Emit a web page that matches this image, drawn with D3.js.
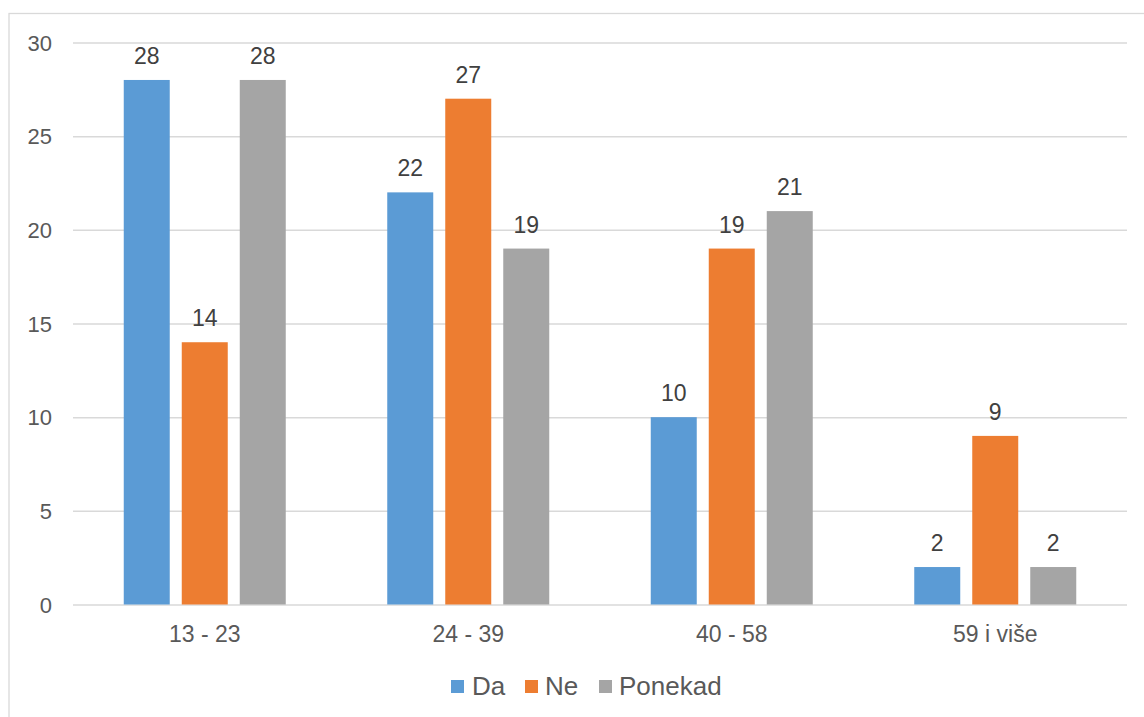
<!DOCTYPE html>
<html>
<head>
<meta charset="utf-8">
<script src="https://cdn.jsdelivr.net/npm/d3@7"></script>
<style>
  html, body { margin: 0; padding: 0; background: #fff; }
  svg { display: block; font-family: "Liberation Sans", Arial, sans-serif; }
</style>
</head>
<body>
<svg id="chart" width="1144" height="717"></svg>
<script>
const categories = ["13 - 23", "24 - 39", "40 - 58", "59 i više"];
const seriesNames = ["Da", "Ne", "Ponekad"];
const da = [28, 22, 10, 2];
const ne = [14, 27, 19, 9];
const ponekad = [28, 19, 21, 2];
const yTicks = [0, 5, 10, 15, 20, 25, 30];
const colors = ["#5B9BD5", "#ED7D31", "#A5A5A5"];

const seriesValues = [da, ne, ponekad];
const svg = d3.select("#chart");

// frame
svg.append("rect")
  .attr("x", 9).attr("y", 13.5)
  .attr("width", 1200).attr("height", 800)
  .attr("fill", "none").attr("stroke", "#d9d9d9").attr("stroke-width", 1.3);

const plotLeft = 73, plotRight = 1127, plotTop = 42.5, plotBottom = 604.5;

const y = d3.scaleLinear().domain([0, 30]).range([plotBottom, plotTop]);
const x0 = d3.scaleBand().domain(categories).range([plotLeft, plotRight]).padding(0);
const groupPad = (x0.bandwidth() - 162) / 2;
const x1 = d3.scaleBand().domain(seriesNames)
  .range([groupPad, x0.bandwidth() - groupPad]).paddingInner(0.207).paddingOuter(0);

// gridlines
const grid = svg.append("g")
  .attr("transform", `translate(${plotLeft},0)`)
  .call(d3.axisLeft(y).tickValues(yTicks).tickSize(-(plotRight - plotLeft)).tickFormat(""));
grid.select(".domain").remove();
grid.selectAll("line").attr("stroke", "#d9d9d9").attr("stroke-width", 1.5);

// y tick labels
const yAx = svg.append("g")
  .attr("transform", `translate(${plotLeft - 21},0)`)
  .call(d3.axisLeft(y).tickValues(yTicks).tickSize(0).tickPadding(0));
yAx.select(".domain").remove();
yAx.selectAll("text")
  .attr("fill", "#595959").attr("font-size", 22)
  .attr("font-family", "Liberation Sans, Arial, sans-serif")
  .attr("dy", "0.35em");

// bars
const groups = svg.append("g").selectAll("g")
  .data(categories).join("g")
  .attr("transform", d => `translate(${x0(d)},0)`);

groups.each(function(cat, ci) {
  const g = d3.select(this);
  seriesNames.forEach((s, si) => {
    const v = seriesValues[si][ci];
    g.append("rect")
      .attr("x", x1(s)).attr("width", x1.bandwidth())
      .attr("y", y(v)).attr("height", y(0) - y(v))
      .attr("fill", colors[si]);
    g.append("text")
      .attr("x", x1(s) + x1.bandwidth() / 2)
      .attr("y", y(v) - 16)
      .attr("text-anchor", "middle")
      .attr("fill", "#404040").attr("font-size", 23)
      .text(v);
  });
});

// x axis category labels
const xAx = svg.append("g")
  .attr("transform", `translate(0,${plotBottom})`)
  .call(d3.axisBottom(x0).tickSize(0).tickPadding(0));
xAx.select(".domain").remove();
xAx.selectAll("text")
  .attr("fill", "#595959").attr("font-size", 23)
  .attr("font-family", "Liberation Sans, Arial, sans-serif")
  .attr("dy", null).attr("y", 37.5);

// legend
const legendItems = [
  { name: "Da", sx: 451, tx: 472 },
  { name: "Ne", sx: 525, tx: 545 },
  { name: "Ponekad", sx: 599, tx: 619 }
];
const leg = svg.append("g");
legendItems.forEach((it, i) => {
  leg.append("rect").attr("x", it.sx).attr("y", 680).attr("width", 13).attr("height", 13)
    .attr("fill", colors[i]);
  leg.append("text").attr("x", it.tx).attr("y", 694.5)
    .attr("fill", "#595959").attr("font-size", 26).text(seriesNames[i]);
});
</script>
</body>
</html>
